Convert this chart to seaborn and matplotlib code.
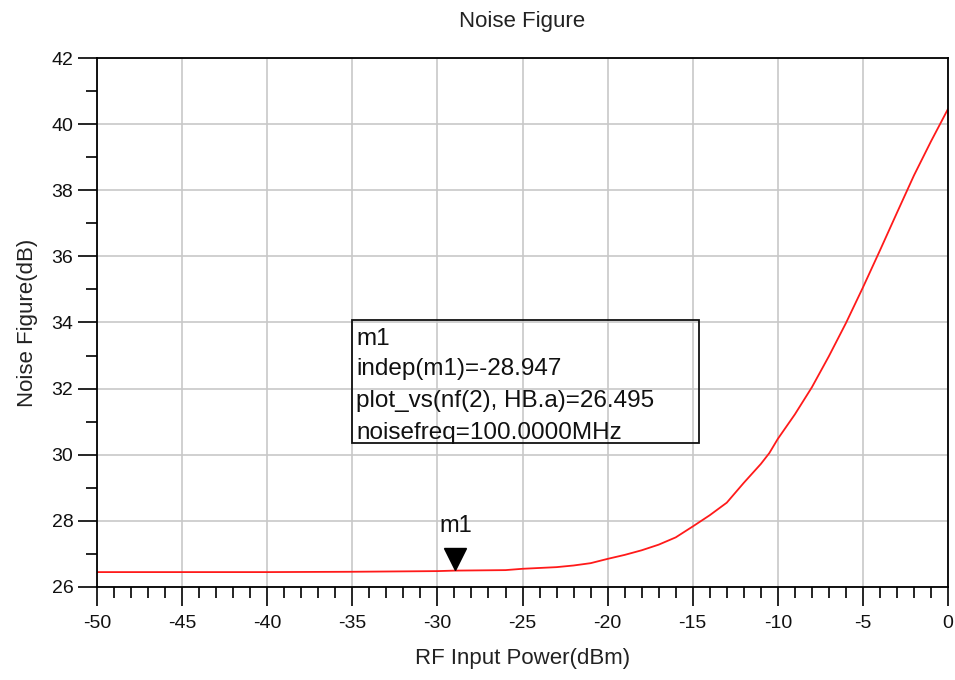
import numpy as np
import pandas as pd
import matplotlib
matplotlib.use("Agg")
import matplotlib.pyplot as plt
import matplotlib.transforms as mtransforms
from matplotlib.patches import Rectangle
import seaborn as sns

# ---- data ----
rf_power = [-50, -45, -40, -35, -30, -29, -28, -26, -25, -23, -22, -21, -20, -19,
            -18, -17, -16, -15, -14, -13, -12, -11, -10.5, -10, -9, -8, -7, -6,
            -5, -4, -3, -2, -1, 0]
noise_fig = [26.45, 26.45, 26.45, 26.46, 26.48, 26.495, 26.50, 26.51, 26.55, 26.60,
             26.65, 26.72, 26.85, 26.97, 27.11, 27.28, 27.50, 27.83, 28.17, 28.55,
             29.15, 29.72, 30.05, 30.48, 31.22, 32.04, 32.98, 33.98, 35.06, 36.18,
             37.32, 38.45, 39.48, 40.46]
x_ticks = [-50, -45, -40, -35, -30, -25, -20, -15, -10, -5, 0]
y_ticks = [26, 28, 30, 32, 34, 36, 38, 40, 42]
marker_x = -28.947
marker_y = 26.495
marker_name = "m1"
readout_lines = ["m1", "indep(m1)=-28.947", "plot_vs(nf(2), HB.a)=26.495",
                 "noisefreq=100.0000MHz"]

df = pd.DataFrame({"power": rf_power, "nf": noise_fig})

sns.set_theme(style="white")
plt.rcParams["font.family"] = ["Liberation Sans", "DejaVu Sans"]
plt.rcParams["axes.unicode_minus"] = False

fig = plt.figure(figsize=(9.55, 6.8), dpi=100)
ax = fig.add_axes([0.1016, 0.1368, 0.8911, 0.7779])

sns.lineplot(data=df, x="power", y="nf", ax=ax, color="#ff1a1a", linewidth=1.3)

ax.set_xlim(-50, 0)
ax.set_ylim(26, 42)
ax.set_xticks(x_ticks)
ax.set_yticks(y_ticks)
ax.set_xticks(np.arange(-50, 1, 1), minor=True)
ax.set_yticks(np.arange(27, 42, 2), minor=True)
ax.set_xticklabels([str(v) for v in x_ticks], fontsize=14)
ax.set_yticklabels([str(v) for v in y_ticks], fontsize=14)

ax.grid(True, which="major", color="#c8c8c8", linewidth=1.2)
ax.set_axisbelow(True)
for s in ax.spines.values():
    s.set_color("black")
    s.set_linewidth(1.3)

ax.tick_params(axis="both", which="major", direction="out", length=14, width=1.2,
               color="black", labelcolor="#111111")
ax.tick_params(axis="x", which="major", pad=6)
ax.tick_params(axis="y", which="major", pad=3)
ax.tick_params(axis="both", which="minor", direction="out", length=8, width=1.2,
               color="black")
ax.tick_params(bottom=True, left=True, top=False, right=False)
ax.tick_params(which="minor", bottom=True, left=True, top=False, right=False)

ax.set_xlabel("RF Input Power(dBm)", fontsize=16, color="#222222", labelpad=12)
ax.set_ylabel("Noise Figure(dB)", fontsize=16, color="#222222", labelpad=10)
ax.set_title("Noise Figure", fontsize=16, color="#222222", pad=22)

# marker triangle with tip on the point
off = mtransforms.offset_copy(ax.transData, fig=fig, x=0, y=8, units="points")
ax.plot([marker_x], [marker_y], marker="v", markersize=16, color="black",
        linestyle="none", transform=off, zorder=5)
ax.annotate(marker_name, xy=(marker_x, marker_y), xytext=(0, 24),
            textcoords="offset points", ha="center", va="bottom",
            fontsize=17, color="#111111")

# readout box
ax.add_patch(Rectangle((0.2996, 0.272), 0.4078, 0.233, transform=ax.transAxes,
                       fill=True, facecolor="none", edgecolor="#111111",
                       linewidth=1.3, zorder=4))
baselines = [345, 375, 407, 439]
for txt, by in zip(readout_lines, baselines):
    ax.text(0.3043, (587 - by) / 529, txt, transform=ax.transAxes,
            fontsize=17.5, ha="left", va="baseline", color="#111111", zorder=5)

fig.savefig("out.png", dpi=100)
